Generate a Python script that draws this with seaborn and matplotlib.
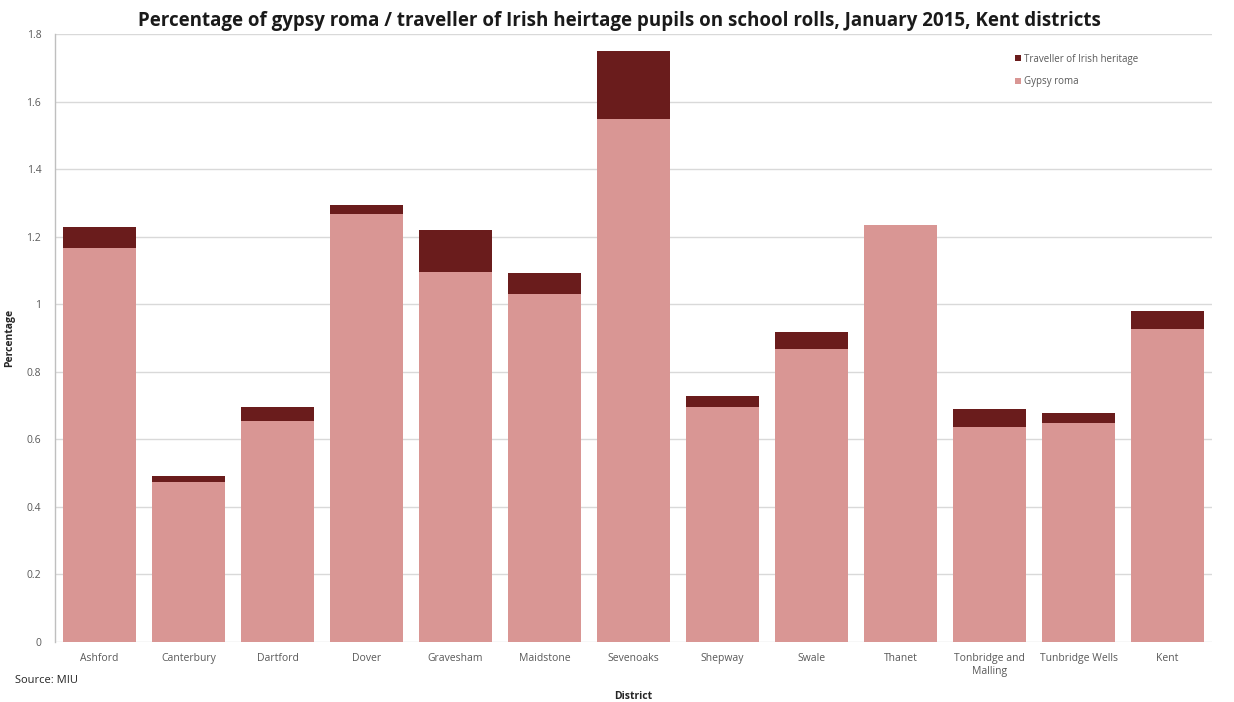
import matplotlib
matplotlib.use("Agg")
import matplotlib.pyplot as plt
import seaborn as sns
import pandas as pd
from matplotlib.patches import Patch

districts = ["Ashford", "Canterbury", "Dartford", "Dover", "Gravesham", "Maidstone",
             "Sevenoaks", "Shepway", "Swale", "Thanet", "Tonbridge and\nMalling",
             "Tunbridge Wells", "Kent"]
gypsy_roma = [1.166, 0.474, 0.655, 1.268, 1.095, 1.031, 1.548, 0.697, 0.867, 1.236,
              0.636, 0.648, 0.927]
traveller_irish = [0.063, 0.018, 0.041, 0.026, 0.125, 0.061, 0.202, 0.032, 0.050, 0.0,
                   0.054, 0.031, 0.054]
y_ticks = [0, 0.2, 0.4, 0.6, 0.8, 1, 1.2, 1.4, 1.6, 1.8]

pink = "#D99694"
dark = "#6A1C1C"
label_grey = "#595959"

df = pd.DataFrame({
    "District": districts,
    "Gypsy roma": gypsy_roma,
    "Traveller of Irish heritage": traveller_irish,
})
df["Total"] = df["Gypsy roma"] + df["Traveller of Irish heritage"]

sns.set_theme(style="white")
plt.rcParams["font.family"] = ["Open Sans", "DejaVu Sans"]

fig = plt.figure(figsize=(12.34, 7.02), dpi=100)
ax = fig.add_axes([0.0446, 0.0855, 0.9376, 0.866])

# stacked bars: full height in dark red, gypsy roma part drawn over it
sns.barplot(data=df, x="District", y="Total", color=dark, saturation=1,
            width=0.83, ax=ax, zorder=2)
sns.barplot(data=df, x="District", y="Gypsy roma", color=pink, saturation=1,
            width=0.83, ax=ax, zorder=3)
for p in ax.patches:
    p.set_edgecolor("none")

ax.set_ylim(0, 1.8)
ax.set_xlim(-0.5, len(districts) - 0.5)
ax.set_yticks(y_ticks)
ax.set_yticklabels([f"{t:g}" for t in y_ticks])
ax.yaxis.grid(True, color="#D9D9D9", linewidth=1.0, zorder=0)
ax.set_axisbelow(True)

for side in ["top", "right", "bottom"]:
    ax.spines[side].set_visible(False)
ax.spines["left"].set_color("#BFBFBF")
ax.spines["left"].set_linewidth(1.0)

ax.tick_params(axis="y", length=4, color="#BFBFBF", labelsize=7.5, labelcolor=label_grey, pad=6)
ax.tick_params(axis="x", length=0, labelsize=7.5, labelcolor=label_grey, pad=8)

ax.set_xlabel("District", fontsize=7.5, fontweight="bold", color="#262626", labelpad=10)
ax.set_ylabel("Percentage", fontsize=7.5, fontweight="bold", color="#262626", labelpad=8)

fig.suptitle("Percentage of gypsy roma / traveller of Irish heirtage pupils on school rolls, January 2015, Kent districts",
             x=0.502, y=0.985, fontsize=13.5, fontweight="bold", color="#1a1a1a")

fig.text(0.012, 0.027, "Source: MIU", fontsize=8, color="#262626")

handles = [Patch(facecolor=dark, edgecolor="none", label="Traveller of Irish heritage"),
           Patch(facecolor=pink, edgecolor="none", label="Gypsy roma")]
leg = ax.legend(handles=handles, loc="upper left", bbox_to_anchor=(0.822, 0.982),
                frameon=False, fontsize=7, handlelength=0.6, handleheight=0.6,
                handletextpad=0.3, labelspacing=1.2, labelcolor=label_grey)

fig.savefig("out.png", dpi=100, facecolor="white")
